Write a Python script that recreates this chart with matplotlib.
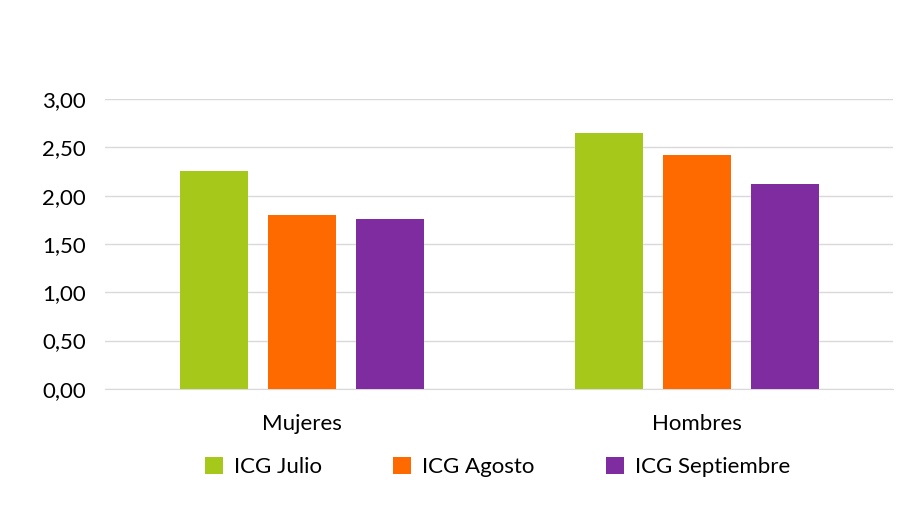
import matplotlib
matplotlib.use("Agg")
import matplotlib.pyplot as plt
import numpy as np

categories = ["Mujeres", "Hombres"]
series_names = ["ICG Julio", "ICG Agosto", "ICG Septiembre"]
julio = [2.25, 2.65]
agosto = [1.80, 2.42]
septiembre = [1.76, 2.12]
yticks = [0, 0.5, 1, 1.5, 2, 2.5, 3]

plt.rcParams["font.family"] = "Lato"
fig = plt.figure(figsize=(9, 5.05), dpi=100)
ax = fig.add_axes([0.117, 0.230, 0.875, 0.574])
colors = ["#a5c81a", "#ff6a00", "#7f2ca0"]
x = np.arange(len(categories))
w, off = 0.172, 0.223
for i, (vals, name) in enumerate(zip([julio, agosto, septiembre], series_names)):
    ax.bar(x + (i - 1) * off, vals, w, color=colors[i], label=name, zorder=3)
ax.set_xlim(-0.499, 1.496)
ax.set_ylim(0, 3)
ax.set_yticks(yticks)
ax.set_yticklabels([f"{v:.2f}".replace(".", ",") for v in yticks], fontsize=16)
ax.set_xticks(x)
ax.set_xticklabels(categories, fontsize=16)
ax.grid(axis="y", color="#d9d9d9", lw=1, zorder=0)
for s in ["top", "right", "left"]:
    ax.spines[s].set_visible(False)
ax.spines["bottom"].set_color("#d9d9d9")
ax.tick_params(axis="x", length=0, pad=18)
ax.tick_params(axis="y", length=0, pad=14)
fig.legend(loc="center", bbox_to_anchor=(0.553, 0.075), ncol=3, frameon=False,
           fontsize=16, handlelength=0.8, handleheight=0.8, columnspacing=3.2, handletextpad=0.5)
fig.savefig("out.png", dpi=100)
